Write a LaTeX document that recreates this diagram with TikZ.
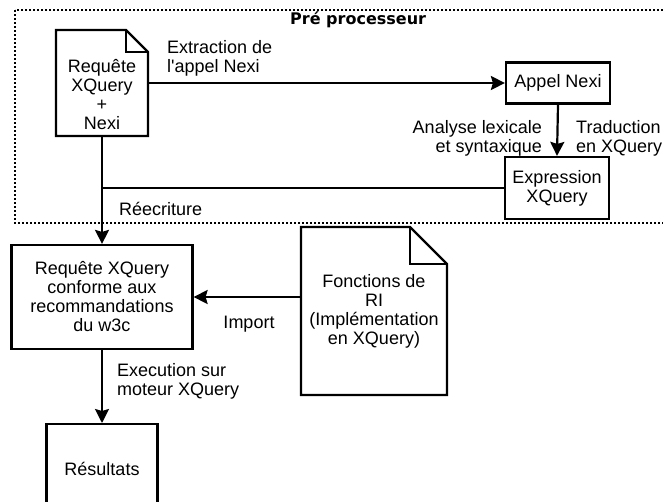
\documentclass[tikz,border=0pt]{standalone}
\usepackage{fontspec}
\setmainfont{Liberation Sans}
\newfontfamily\titrefont{DejaVu Sans}
\usetikzlibrary{arrows.meta}
\tikzset{>={Stealth[length=14pt,width=14pt,inset=2pt]}}
\tikzset{
  boite/.style={draw, line width=2.2pt, align=center, inner sep=2pt},
  doc/.style={align=center, inner sep=0pt},
  lien/.style={line width=2.2pt},
  fleche/.style={->, line width=2.2pt},
  etiq/.style={inner sep=0pt},
}

\begin{document}
\begin{tikzpicture}[x=1pt, y=-1pt, every node/.style={font=\fontsize{18}{19}\selectfont}]
            \useasboundingbox (0,0) rectangle (663,501);
            % cadre pre processeur
            \draw[line width=2pt, dash pattern=on 2pt off 2pt] (15,10) rectangle (700,223);
            \node[etiq, anchor=west, font=\titrefont\bfseries\fontsize{16}{18}\selectfont] (titre) at (290,20) {Pré processeur};

            \node[doc, minimum width=92pt, minimum height=82pt] (requete) at (102,95) {Requête\\XQuery\\+\\Nexi};
            \draw[lien] (56,30) -- (126,30) -- (148,52) -- (148,136) -- (56,136) -- cycle;
            \draw[lien] (126,30) |- (148,52);

            \node[boite, minimum width=104pt, minimum height=41pt] (appel) at (558,83) {Appel Nexi};
            \node[boite, minimum width=104pt, minimum height=62pt] (expr) at (557,188) {Expression\\XQuery};
            \node[boite, minimum width=181pt, minimum height=104pt] (conforme) at (102,297) {Requête XQuery\\conforme aux\\recommandations\\du w3c};
            \node[boite, minimum width=111pt, minimum height=90pt, anchor=north] (resultats) at (102,423) {Résultats};

            \node[doc, minimum width=146pt, minimum height=168pt] (fonctions) at (374,311) {Fonctions de\\RI\\(Implémentation\\en XQuery)};
            \draw[lien] (301,227) -- (410,227) -- (447,264) -- (447,395) -- (301,395) -- cycle;
            \draw[lien] (410,227) |- (447,264);

            \coordinate (jonction) at (requete.south |- expr.west);
            \draw[fleche] (requete.east |- appel.west) -- (appel.west);
            \draw[fleche] (appel.south) -- (expr.north);
            \draw[lien] (expr.west) -- (jonction);
            \draw[fleche] (requete.south) -- (conforme.north);
            \draw[fleche] (fonctions.west |- conforme.east) -- (conforme.east);
            \draw[fleche] (conforme.south) -- (resultats.north);

            \node[etiq, anchor=west, align=left] (extraction) at (167,58) {Extraction de\\l\textquotesingle appel Nexi};
            \node[etiq, anchor=east, align=right] (analyse) at (542,138) {Analyse lexicale\\et syntaxique};
            \node[etiq, anchor=west, align=left] (traduction) at (576,138) {Traduction\\en XQuery};
            \node[etiq, anchor=west] (reecriture) at (119,209) {Réecriture};
            \node[etiq] (import) at (249,324) {Import};
            \node[etiq, anchor=west, align=left] (execution) at (117,381) {Execution sur\\moteur XQuery};
        \end{tikzpicture}
\end{document}
